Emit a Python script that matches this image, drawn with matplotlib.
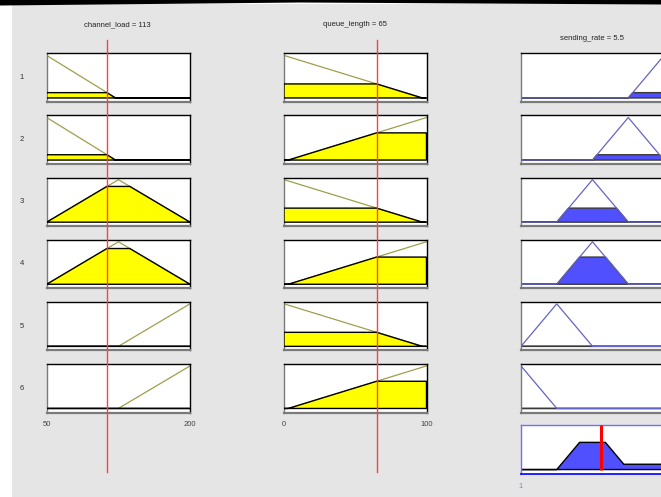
import numpy as np
import matplotlib
matplotlib.use("Agg")
import matplotlib.pyplot as plt
from matplotlib.patches import Rectangle, Polygon
from matplotlib.lines import Line2D
import matplotlib.transforms as mtransforms

# ---------------------------------------------------------------- data
channel_load_value = 113
queue_length_value = 65
sending_rate_value = 5.5

channel_load_range = [50, 200]
queue_length_range = [0, 100]
sending_rate_range = [1, 9]

# input membership functions as piecewise-linear breakpoints
channel_load_mfs = {
    "low":    ([50, 122, 200], [1, 0, 0]),
    "medium": ([50, 125, 200], [0, 1, 0]),
    "high":   ([50, 125, 200], [0, 0, 1]),
}
queue_length_mfs = {
    "short": ([0, 97, 100], [1, 0, 0]),
    "long":  ([0, 3, 100], [0, 0, 1]),
}
# output membership functions (triangles a, b, c)
sending_rate_mfs = {
    "very_low":  [-1, 1, 3],
    "low":       [1, 3, 5],
    "medium":    [3, 5, 7],
    "high":      [5, 7, 9],
    "very_high": [7, 9, 11],
}

rule_channel = ["low", "low", "medium", "medium", "high", "high"]
rule_queue = ["short", "long", "short", "long", "short", "long"]
rule_rate = ["very_high", "high", "medium", "medium", "low", "very_low"]

row_labels = ["1", "2", "3", "4", "5", "6"]
channel_ticks = ["50", "200"]
queue_ticks = ["0", "100"]
rate_ticks = ["1"]

# ---------------------------------------------------------------- figure
W, H, DPI = 661, 497, 100
fig = plt.figure(figsize=(W / DPI, H / DPI), dpi=DPI, facecolor="white")

FONT = ["Liberation Sans Narrow", "Liberation Sans", "DejaVu Sans"]

def px_rect(x0, y0, w, h):
    return [x0 / W, 1 - (y0 + h) / H, w / W, h / H]

def fx(x):
    return x / W

def fy(y):
    return 1 - y / H

# panel background and the dark strip along the top edge
fig.patches.append(Rectangle((fx(12), 0), 1 - fx(12), fy(4), transform=fig.transFigure,
                             facecolor="#e5e5e5", edgecolor="none", zorder=-10))
band = [(0, 0), (W, 0), (W, 4.5), (300, 2.5), (0, 5.5)]
fig.patches.append(Polygon([(fx(a), fy(b)) for a, b in band], closed=True,
                           transform=fig.transFigure, facecolor="black",
                           edgecolor="none", zorder=-5))

YLIM = (-0.095, 1.05)
ROW_TOP0, ROW_STEP, ROW_H = 53.3, 62.1, 48.7
COLS = {"channel": (46.7, 143.3), "queue": (284.0, 142.5), "rate": (521.0, 143.0)}

OLIVE = "#a09e4c"
YELLOW = "#ffff00"
BLUE_FILL = "#5050ff"
BLUE_LINE = "#6464c8"


def style_box(ax, top="black", right="black", left="#7a7a7a", bottom="#7a7a7a", blw=1.6):
    ax.set_xticks([])
    ax.set_yticks([])
    ax.spines["top"].set_color(top)
    ax.spines["right"].set_color(right)
    ax.spines["left"].set_color(left)
    ax.spines["bottom"].set_color(bottom)
    for s in ("top", "right", "left"):
        ax.spines[s].set_linewidth(1.0)
    ax.spines["bottom"].set_linewidth(blw)
    ax.set_facecolor("white")
    ax.set_ylim(*YLIM)


def input_mu(mfs, name, x):
    xp, fp = mfs[name]
    return np.interp(x, xp, fp)


def output_mu(name, x):
    a, b, c = sending_rate_mfs[name]
    return np.interp(x, [a, b, c], [0, 1, 0], left=0, right=0)


def clipped_patch(ax, x, y, face, edge, z):
    verts = np.column_stack([np.r_[x, x[-1], x[0]], np.r_[y, 0, 0]])
    ax.add_patch(Polygon(verts, closed=True, facecolor=face, edgecolor=edge,
                         linewidth=1.0, joinstyle="miter", zorder=z))


xc = np.linspace(*channel_load_range, 1501)
xq = np.linspace(*queue_length_range, 1001)
xr = np.linspace(*sending_rate_range, 1601)

ax_channel, ax_queue = [], []
aggregate = np.zeros_like(xr)

for i in range(6):
    top = ROW_TOP0 + i * ROW_STEP
    s_c = float(input_mu(channel_load_mfs, rule_channel[i], channel_load_value))
    s_q = float(input_mu(queue_length_mfs, rule_queue[i], queue_length_value))
    strength = min(s_c, s_q)

    # channel_load column
    ax = fig.add_axes(px_rect(COLS["channel"][0], top, COLS["channel"][1], ROW_H))
    style_box(ax)
    ax.set_xlim(*channel_load_range)
    mu = input_mu(channel_load_mfs, rule_channel[i], xc)
    ax.plot(xc, mu, color=OLIVE, lw=0.9, zorder=2)
    clipped_patch(ax, xc, np.minimum(mu, s_c), YELLOW, "black", 3)
    ax_channel.append(ax)

    # queue_length column
    ax = fig.add_axes(px_rect(COLS["queue"][0], top, COLS["queue"][1], ROW_H))
    style_box(ax)
    ax.set_xlim(*queue_length_range)
    mu = input_mu(queue_length_mfs, rule_queue[i], xq)
    ax.plot(xq, mu, color=OLIVE, lw=0.9, zorder=2)
    clipped_patch(ax, xq, np.minimum(mu, s_q), YELLOW, "black", 3)
    ax_queue.append(ax)

    # sending_rate column (implication by min)
    ax = fig.add_axes(px_rect(COLS["rate"][0], top, COLS["rate"][1], ROW_H))
    style_box(ax)
    ax.set_xlim(*sending_rate_range)
    mu = output_mu(rule_rate[i], xr)
    clipped = np.minimum(mu, strength)
    aggregate = np.maximum(aggregate, clipped)
    clipped_patch(ax, xr, clipped, BLUE_FILL, "#3a3a3a", 2)
    ax.plot(xr, mu, color=BLUE_LINE, lw=0.9, zorder=3)

    fig.text(fx(22), fy(top + ROW_H / 2), row_labels[i], ha="center", va="center",
             fontsize=5.5, color="#333333", family=FONT)

# aggregated output with its defuzzified value
ax_out = fig.add_axes(px_rect(COLS["rate"][0], ROW_TOP0 + 6 * ROW_STEP - 1, COLS["rate"][1], ROW_H))
style_box(ax_out, top="#7070ff", right="#7070ff", left="#7070ff", bottom="#2020ff", blw=1.4)
ax_out.set_xlim(*sending_rate_range)
clipped_patch(ax_out, xr, aggregate, BLUE_FILL, "black", 2)
ax_out.plot([sending_rate_value, sending_rate_value], [0, YLIM[1]], color="#ff0000", lw=2.2,
            solid_capstyle="butt", zorder=4)

# input value markers spanning the rule rows
for ax, val in ((ax_channel[0], channel_load_value), (ax_queue[0], queue_length_value)):
    tr = mtransforms.blended_transform_factory(ax.transData, fig.transFigure)
    fig.lines.append(Line2D([val, val], [fy(40), fy(472)], transform=tr,
                            color="#ff4040", lw=1.0, zorder=10, snap=True))

# variable titles
fig.text(fx(117.5), fy(25), f"channel_load = {channel_load_value}", ha="center", va="center",
         fontsize=5.5, color="#222222", family=FONT)
fig.text(fx(355), fy(25), f"queue_length = {queue_length_value}", ha="center", va="center",
         fontsize=5.5, color="#222222", family=FONT)
fig.text(fx(592), fy(38), f"sending_rate = {sending_rate_value}", ha="center", va="center",
         fontsize=5.5, color="#222222", family=FONT)

# range labels
def range_label(ax, xval, text, ypx, color="#444444"):
    tr = mtransforms.blended_transform_factory(ax.transData, fig.transFigure)
    fig.text(xval, fy(ypx), text, transform=tr, ha="center", va="center",
             fontsize=5.5, color=color, family=FONT)

range_label(ax_channel[-1], channel_load_range[0], channel_ticks[0], 425)
range_label(ax_channel[-1], channel_load_range[1], channel_ticks[1], 425)
range_label(ax_queue[-1], queue_length_range[0], queue_ticks[0], 425)
range_label(ax_queue[-1], queue_length_range[1], queue_ticks[1], 425)
range_label(ax_out, sending_rate_range[0], rate_ticks[0], 487, color="#8080e0")

fig.savefig("out.png", dpi=DPI, facecolor="white")
